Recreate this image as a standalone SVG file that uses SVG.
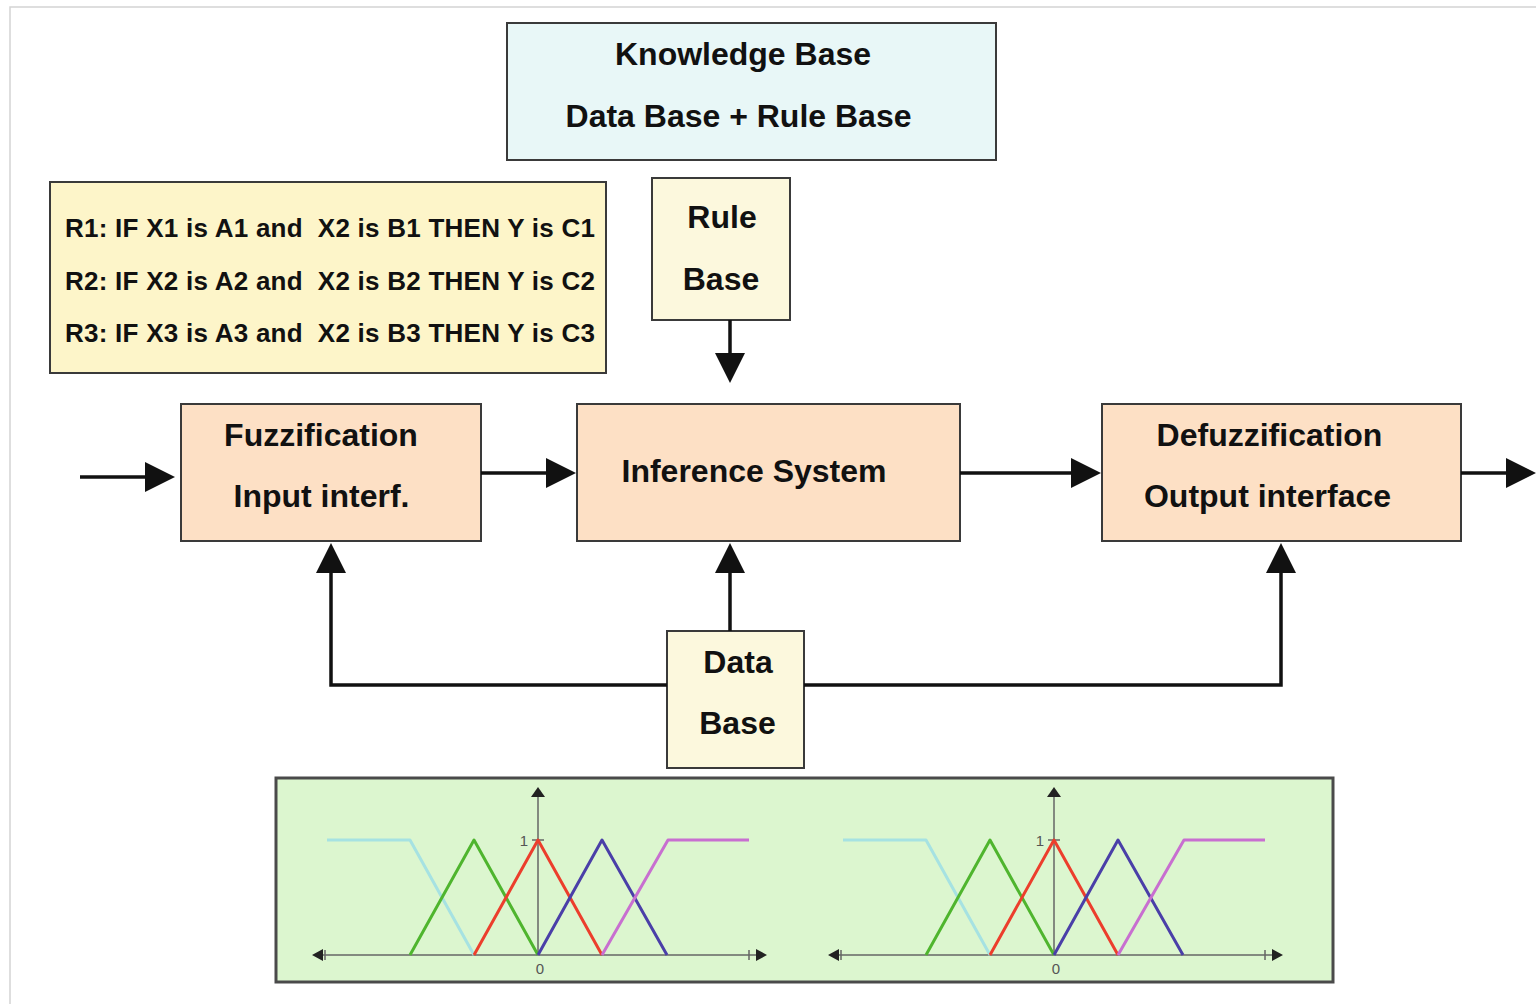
<svg xmlns="http://www.w3.org/2000/svg" width="1536" height="1004" viewBox="0 0 1536 1004">
  <style>
    .box { stroke: #3a3a3a; stroke-width: 2; }
    .lbl { font-family: "Liberation Sans", Arial, Helvetica, sans-serif; font-weight: bold; font-size: 32px; fill: #111; text-anchor: middle; }
    .rule { font-family: "Liberation Sans", Arial, Helvetica, sans-serif; font-weight: bold; font-size: 26px; fill: #111; letter-spacing: 0.25px; white-space: pre; }
    .wire { fill: none; stroke: #111; stroke-width: 3.5; }
    .axis { fill: none; stroke: #666; stroke-width: 1.5; }
    .tick { font-family: "Liberation Sans", Arial, sans-serif; font-size: 15px; fill: #555; text-anchor: middle; }
    .mf { fill: none; stroke-width: 3; stroke-linejoin: round; }
  </style>
  <defs>
    <marker id="arrow" viewBox="0 0 30 30" refX="24" refY="15" markerWidth="30" markerHeight="30" markerUnits="userSpaceOnUse" orient="auto">
      <path d="M0,0 L30,15 L0,30 z" fill="#111"/>
    </marker>
    <!-- membership-function chart, drawn around its own y axis at x=0, baseline y=0 -->
    <g id="mfchart">
      <path class="axis" d="M-222,0 H225"/>
      <path d="M-226,0 l11,-6 v12 z M229,0 l-11,-6 v12 z" fill="#222"/>
      <path class="axis" d="M-213,-5 v10 M211,-5 v10"/>
      <path class="axis" d="M0,0 V-160"/>
      <path d="M0,-168 l-7,10 h14 z" fill="#222"/>
      <path class="axis" d="M-6,-115 h12"/>
      <text class="tick" x="-14" y="-109">1</text>
      <text class="tick" x="2" y="19">0</text>
      <path class="mf" stroke="#a6e2e2" d="M-211,-115 H-128 L-64,0"/>
      <path class="mf" stroke="#4fb52e" d="M-128,0 L-64,-115 L0,0"/>
      <path class="mf" stroke="#ec3e2c" d="M-64,0 L0,-115 L64,0"/>
      <path class="mf" stroke="#4a3fa8" d="M0,0 L64,-115 L129,0"/>
      <path class="mf" stroke="#c86fd0" d="M64,0 L130,-115 H211"/>
    </g>
  </defs>

  <rect width="1536" height="1004" fill="#ffffff"/>
  <!-- page frame -->
  <path d="M10,1004 V7 H1536" fill="none" stroke="#d4d4d4" stroke-width="1.5"/>

  <g id="knowledge-base">
    <rect class="box" x="507" y="23" width="489" height="137" fill="#e8f7f7"/>
    <text class="lbl" x="743" y="65">Knowledge Base</text>
    <text class="lbl" x="738.5" y="127">Data Base + Rule Base</text>
  </g>

  <g id="rules">
    <rect class="box" x="50" y="182" width="556" height="191" fill="#fdf5c9"/>
    <text class="rule" x="65" y="237" xml:space="preserve">R1: IF X1 is A1 and  X2 is B1 THEN Y is C1</text>
    <text class="rule" x="65" y="290" xml:space="preserve">R2: IF X2 is A2 and  X2 is B2 THEN Y is C2</text>
    <text class="rule" x="65" y="342" xml:space="preserve">R3: IF X3 is A3 and  X2 is B3 THEN Y is C3</text>
  </g>

  <g id="rule-base">
    <rect class="box" x="652" y="178" width="138" height="142" fill="#fcf8dd"/>
    <text class="lbl" x="722" y="228">Rule</text>
    <text class="lbl" x="721" y="290">Base</text>
  </g>

  <g id="fuzzification">
    <rect class="box" x="181" y="404" width="300" height="137" fill="#fde0c5"/>
    <text class="lbl" x="321" y="446">Fuzzification</text>
    <text class="lbl" x="321.5" y="507">Input interf.</text>
  </g>

  <g id="inference">
    <rect class="box" x="577" y="404" width="383" height="137" fill="#fde0c5"/>
    <text class="lbl" x="754" y="482">Inference System</text>
  </g>

  <g id="defuzzification">
    <rect class="box" x="1102" y="404" width="359" height="137" fill="#fde0c5"/>
    <text class="lbl" x="1269.5" y="446">Defuzzification</text>
    <text class="lbl" x="1267.5" y="507">Output interface</text>
  </g>

  <g id="data-base">
    <rect class="box" x="667" y="631" width="137" height="137" fill="#fcf8dd"/>
    <text class="lbl" x="738" y="673">Data</text>
    <text class="lbl" x="737.5" y="734">Base</text>
  </g>

  <g id="membership-functions">
    <rect x="276" y="778" width="1057" height="204" fill="#dcf6cf" stroke="#4a4a4a" stroke-width="3"/>
    <use href="#mfchart" x="538" y="955"/>
    <use href="#mfchart" x="1054" y="955"/>
  </g>

  <g id="connectors">
    <path class="wire" d="M80,477 H169" marker-end="url(#arrow)"/>
    <path class="wire" d="M481,473 H570" marker-end="url(#arrow)"/>
    <path class="wire" d="M960,473 H1095" marker-end="url(#arrow)"/>
    <path class="wire" d="M1461,473 H1530" marker-end="url(#arrow)"/>
    <path class="wire" d="M730,320 V377" marker-end="url(#arrow)"/>
    <path class="wire" d="M730,631 V549" marker-end="url(#arrow)"/>
    <path class="wire" d="M667,685 H331 V549" marker-end="url(#arrow)"/>
    <path class="wire" d="M804,685 H1281 V549" marker-end="url(#arrow)"/>
  </g>
</svg>
